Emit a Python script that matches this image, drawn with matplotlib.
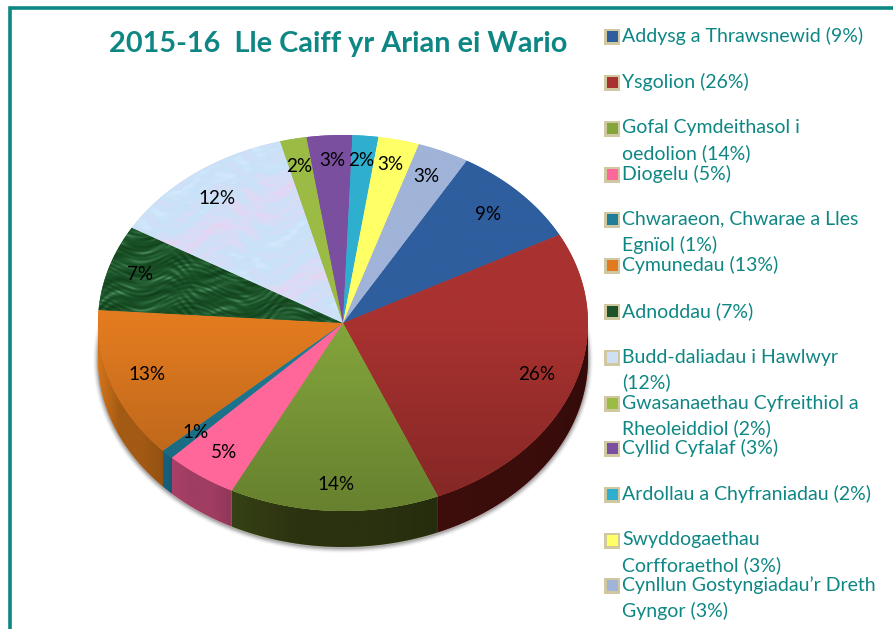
import numpy as np
import matplotlib
matplotlib.use("Agg")
import matplotlib.pyplot as plt
from matplotlib.patches import Rectangle, Polygon, Ellipse
from matplotlib.colors import LinearSegmentedColormap, to_rgb

plt.rcParams['font.family'] = ['Lato', 'DejaVu Sans']

W, H = 893, 629
title = "2015-16  Lle Caiff yr Arian ei Wario"
values = [8.8, 26.45, 13.83, 4.8, 0.83, 12.97, 7.36, 12.4, 1.75, 3.0, 1.7, 2.7, 3.4]
pct_labels = ["9%", "26%", "14%", "5%", "1%", "13%", "7%", "12%", "2%", "3%", "2%", "3%", "3%"]
legend_labels = ["Addysg a Thrawsnewid (9%)", "Ysgolion (26%)", "Gofal Cymdeithasol i\noedolion (14%)",
                 "Diogelu (5%)", "Chwaraeon, Chwarae a Lles\nEgnïol (1%)", "Cymunedau (13%)", "Adnoddau (7%)",
                 "Budd-daliadau i Hawlwyr\n(12%)", "Gwasanaethau Cyfreithiol a\nRheoleiddiol (2%)",
                 "Cyllid Cyfalaf (3%)", "Ardollau a Chyfraniadau (2%)", "Swyddogaethau\nCorfforaethol (3%)",
                 "Cynllun Gostyngiadau\u2019r Dreth\nGyngor (3%)"]
colors = ["#2F5E9E", "#A83230", "#84A53C", "#FF6699", "#1F7F9B", "#E27B20", "#1E5228",
          "#CFE0F5", "#9BBB45", "#7B4FA0", "#2FAFD0", "#FFFF66", "#A0B3D8"]
legend_y = [36, 82, 128, 174, 219, 265, 311, 357, 403, 448, 494, 540, 585]
label_xy = [(488, 215), (537, 375), (336, 485), (224, 453), (196, 433), (147, 374), (140, 274),
            (217, 198), (299, 166), (332, 161), (361, 161), (390, 165), (426, 177)]
TEAL = "#0E8784"
CX, CY, RX, RY, DEPTH = 343, 323, 245, 188, 36
START = 59.7

fig = plt.figure(figsize=(W / 100, H / 100), dpi=100)
ax = fig.add_axes([0, 0, 1, 1])
ax.set_xlim(0, W)
ax.set_ylim(H, 0)
ax.axis("off")

ax.plot([9.5, 9.5, W], [H, 7.5, 7.5], color=TEAL, lw=2.6, solid_joinstyle="miter", zorder=1)
ax.text(338.5, 44, title, color=TEAL, fontsize=20.75, fontweight="bold", ha="center", va="center", zorder=10)

edges = START - np.cumsum([0] + values) * 360 / sum(values)

def pt(a):
    a = np.radians(a)
    return CX + RX * np.cos(a), CY - RY * np.sin(a)

for k, al in zip((5, 4, 3, 2, 1), (.04, .07, .11, .16, .22)):
    ax.add_patch(Ellipse((CX, CY + DEPTH + 1), 2 * RX + 2 * k, 2 * RY + 2 * k, color="#555555", alpha=al, lw=0, zorder=2))

side = {0: ("#23314F", 1.05), 1: ("#3A0D0B", 1.05), 2: ("#2A3210", 1.3), 3: ("#A03D62", 1.05),
        4: ("#175F78", 1.05), 5: ("#A35A14", 1.3)}
yy = np.linspace(0, 1, 256).reshape(-1, 1)
xx = np.linspace(0, 1, 256).reshape(1, -1)

for i in range(len(values)):
    a0, a1 = edges[i], edges[i + 1]
    if a0 > -180 and a1 < 0:
        angs = np.linspace(min(a0, 0), max(a1, -180), 60)
        xs, ys = pt(angs)
        verts = np.r_[np.c_[xs, ys], np.c_[xs[::-1], ys[::-1] + DEPTH]]
        poly = Polygon(verts, closed=True, fc=colors[i], lw=0, zorder=3)
        ax.add_patch(poly)
        base = to_rgb(side[i][0])
        left = tuple(min(1, b * side[i][1]) for b in base)
        cm = LinearSegmentedColormap.from_list("w", [left, base, base, tuple(b * .9 for b in base)])
        im = ax.imshow(xx, cmap=cm, extent=[xs.min(), xs.max(), ys.max() + DEPTH, ys.min()],
                       aspect="auto", zorder=3.1, vmin=0, vmax=1)
        im.set_clip_path(poly)

gx, gy = np.meshgrid(np.linspace(0, 1, 500), np.linspace(0, 1, 400))
marble = (np.sin(gy * 260 + 9 * np.sin(gx * 17) + 4 * np.sin(gx * 53)) * np.sin(gx * 37 + gy * 23)
          + .8 * np.sin(gy * 520 + 11 * np.sin(gx * 31 + 2)) * np.sin(gx * 19 - gy * 60)
          + .6 * np.sin(gy * 90 + gx * 40))
paper = (np.sin(gy * 95 + 4 * np.sin(gx * 31)) * np.sin(gx * 41 + gy * 29)
         + .5 * np.sin(gy * 300 + gx * 60) * np.sin(gx * 110)
         + .9 * np.sin(gy * 23 + gx * 17 + 1))
cm_marble = LinearSegmentedColormap.from_list("m", ["#0E3A18", "#15471F", "#1B5228", "#2C6B3D", "#649F78"])
cm_paper = LinearSegmentedColormap.from_list("p", ["#E9D3F2", "#D8DDF6", "#C8E2F8", "#D6E9FB"])

for i in range(len(values)):
    angs = np.linspace(edges[i], edges[i + 1], 80)
    xs, ys = pt(angs)
    verts = np.r_[[[CX, CY]], np.c_[xs, ys]]
    poly = Polygon(verts, closed=True, fc=colors[i], lw=0, zorder=4)
    ax.add_patch(poly)
    ext = [CX - RX, CX + RX, CY + RY, CY - RY]
    if i == 6:
        im = ax.imshow(marble, cmap=cm_marble, extent=ext, aspect="auto", zorder=4.1)
    elif i == 7:
        im = ax.imshow(paper, cmap=cm_paper, extent=ext, aspect="auto", zorder=4.1)
    else:
        c = np.array(to_rgb(colors[i]))
        f = 1.0 if i == 3 else .78
        cm = LinearSegmentedColormap.from_list("g", [c, c, c * f])
        im = ax.imshow(yy, cmap=cm, extent=ext, aspect="auto", zorder=4.1, vmin=0, vmax=1)
    im.set_clip_path(poly)

ax.set_xlim(0, W)
ax.set_ylim(H, 0)

for (x, y), s in zip(label_xy, pct_labels):
    ax.text(x, y, s, color="black", fontsize=13.6, ha="center", va="center", zorder=6)

for y, s, c in zip(legend_y, legend_labels, colors):
    ax.add_patch(Rectangle((604, y - 7.5), 16, 16, fc="#CFC8A0", ec="none", zorder=5))
    ax.add_patch(Rectangle((606.5, y - 5), 11, 11, fc=c, ec="none", zorder=6))
    for j, line in enumerate(s.split("\n")):
        ax.text(622, y + j * 25.5, line, color=TEAL, fontsize=14.05, ha="left", va="center", zorder=6)

fig.savefig("out.png", dpi=100)
